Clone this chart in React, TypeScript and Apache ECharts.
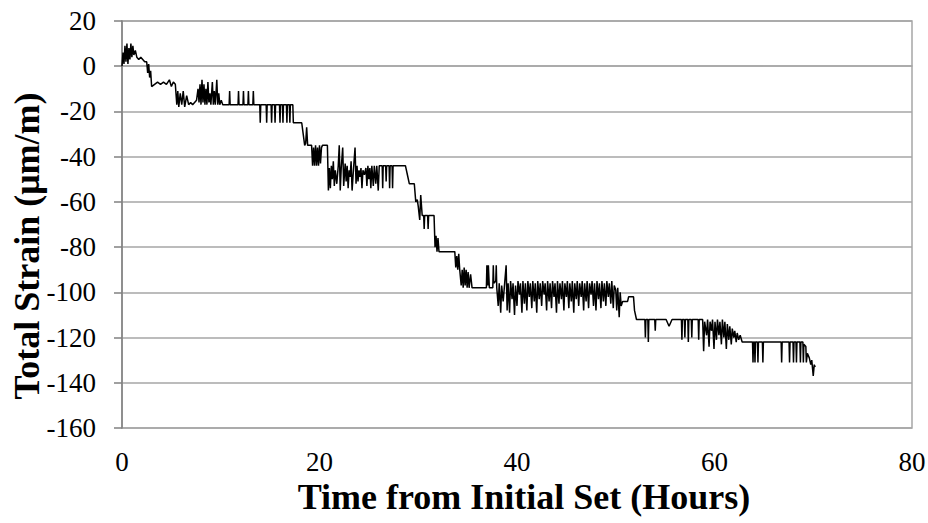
import React, { useEffect, useRef } from "react";
import * as echarts from "echarts";

const xAxisTitle = "Time from Initial Set (Hours)";
const yAxisTitle = "Total Strain (μm/m)";
const xRange = [0, 80];
const yRange = [-160, 20];
const tickStep = 20;

// [hours, strain µm/m]
const readings: [number, number][] = [
  [0.0, 0], [0.1, 6], [0.2, 1], [0.3, 9], [0.4, 2], [0.5, 10], [0.6, 1], [0.7, 8], [0.8, 3], [0.9, 10], [1.0, 4], [1.1, 9], [1.2, 5], [1.35, 7], [1.5, 4], [1.7, 3], [1.9, 4], [2.1, 3], [2.3, 2], [2.5, 2], [2.6, -3], [2.7, 1], [2.8, -5], [2.9, -2], [3.0, -9],
  [3.3, -8], [3.6, -7], [3.9, -8], [4.2, -7], [4.5, -8], [4.8, -6], [5.0, -9], [5.2, -7], [5.4, -8],
  [5.55, -17], [5.65, -11], [5.75, -18], [5.9, -12], [6.05, -17], [6.2, -11], [6.35, -18], [6.55, -13], [6.75, -17], [6.95, -16], [7.15, -17], [7.35, -16], [7.55, -15],
  [7.7, -10], [7.8, -16], [7.9, -8], [8.0, -17], [8.1, -6], [8.2, -16], [8.3, -8], [8.4, -17], [8.5, -10], [8.6, -17], [8.7, -7], [8.8, -16], [8.9, -12], [9.0, -17], [9.15, -7], [9.25, -17], [9.35, -11], [9.45, -17], [9.6, -6], [9.7, -17], [9.8, -12], [9.9, -17], [10.05, -15], [10.2, -17],
  [10.85, -17], [10.9, -11], [10.95, -17], [11.75, -17], [11.8, -11], [11.85, -17], [12.25, -17], [12.3, -11], [12.35, -17], [12.75, -17], [12.8, -11], [12.85, -17], [13.25, -17], [13.3, -11], [13.35, -17],
  [13.95, -17], [14.0, -25], [14.05, -17], [14.6, -17], [14.65, -25], [14.7, -17], [15.1, -17], [15.15, -25], [15.2, -17], [15.45, -17], [15.5, -25], [15.55, -17], [15.95, -17], [16.0, -25], [16.05, -17], [16.25, -17], [16.3, -25], [16.35, -17], [16.65, -17], [16.7, -25], [16.75, -17], [16.95, -17], [17.0, -25], [17.05, -17], [17.3, -17], [17.35, -25],
  [18.2, -25], [18.35, -30], [18.5, -35], [18.6, -34], [18.7, -27], [18.8, -35], [19.2, -35],
  [19.3, -44], [19.4, -36], [19.5, -44], [19.6, -35], [19.7, -44], [19.8, -36], [19.9, -44], [20.0, -35], [20.1, -43], [20.2, -36], [20.3, -35], [20.8, -35],
  [20.9, -55], [21.0, -45], [21.1, -54], [21.2, -44], [21.3, -50], [21.4, -42], [21.5, -53], [21.6, -46], [21.75, -52], [21.9, -44], [22.0, -35], [22.1, -55], [22.2, -45], [22.35, -36], [22.45, -53], [22.6, -43], [22.7, -51], [22.8, -44], [22.9, -54], [23.0, -46], [23.1, -49], [23.2, -42], [23.3, -55], [23.45, -45], [23.6, -36], [23.7, -52], [23.8, -44], [23.9, -51], [24.0, -46], [24.1, -49], [24.2, -45], [24.3, -54], [24.4, -46], [24.55, -48], [24.7, -45], [24.8, -53], [24.9, -44], [25.0, -50], [25.1, -45], [25.2, -54], [25.3, -44],
  [25.45, -53], [25.55, -44], [25.7, -52], [25.8, -44], [25.95, -55], [26.05, -44], [26.35, -44], [26.4, -54], [26.45, -44], [26.7, -44], [26.75, -51], [26.8, -44], [27.05, -44], [27.1, -54], [27.15, -44], [27.35, -44], [27.4, -54], [27.45, -44], [28.7, -44],
  [28.9, -48], [29.1, -52], [29.6, -52], [29.75, -60], [29.9, -59], [30.0, -62], [30.15, -68], [30.25, -57], [30.4, -66], [30.55, -66], [30.6, -72], [30.65, -66], [30.95, -66], [31.0, -72], [31.05, -66], [31.6, -66], [31.7, -80], [31.8, -75], [31.9, -82], [32.0, -76], [32.1, -82], [33.7, -82],
  [33.8, -89], [33.9, -84], [34.0, -90], [34.1, -83], [34.2, -90], [34.35, -97], [34.45, -90], [34.55, -98], [34.65, -89], [34.75, -97], [34.85, -90], [34.95, -98], [35.05, -91], [35.15, -98], [35.3, -92], [35.45, -98],
  [36.9, -98], [36.95, -88], [37.05, -97], [37.1, -88], [37.2, -98], [37.55, -98], [37.6, -88], [37.65, -96], [37.85, -95], [37.9, -88], [37.95, -98],
  [38.1, -106], [38.2, -96], [38.35, -109], [38.45, -97], [38.6, -104], [38.75, -96], [38.9, -88], [39.0, -108], [39.1, -96], [39.25, -109], [39.35, -95], [39.5, -103], [39.6, -96], [39.75, -110], [39.85, -97], [40.0, -106], [40.1, -95], [40.25, -101], [40.35, -96], [40.5, -109], [40.6, -95], [40.75, -105], [40.85, -96], [41.0, -108], [41.1, -95], [41.25, -102], [41.35, -96], [41.5, -107], [41.6, -95], [41.75, -104], [41.85, -96], [42.0, -109], [42.1, -95], [42.25, -103], [42.35, -96], [42.5, -106], [42.6, -95], [42.75, -101], [42.85, -96], [43.0, -108], [43.1, -95], [43.25, -104], [43.35, -96], [43.5, -107], [43.6, -95], [43.75, -102], [43.85, -96], [44.0, -109], [44.1, -95], [44.25, -105], [44.35, -96], [44.5, -103], [44.6, -95], [44.75, -108], [44.85, -96], [45.0, -102], [45.1, -95], [45.25, -107], [45.35, -96], [45.5, -104], [45.6, -95], [45.75, -109], [45.85, -96], [46.0, -103], [46.1, -95], [46.25, -106], [46.35, -96], [46.5, -102], [46.6, -95], [46.75, -108], [46.85, -96], [47.0, -104], [47.1, -95], [47.25, -107], [47.35, -96], [47.5, -101], [47.6, -95], [47.75, -106], [47.85, -96], [48.0, -108], [48.1, -95], [48.25, -103], [48.35, -96], [48.5, -107], [48.6, -95], [48.75, -104], [48.85, -96], [49.0, -106], [49.1, -95], [49.25, -102], [49.35, -96], [49.5, -105], [49.6, -95], [49.75, -107], [49.85, -97],
  [50.0, -99], [50.1, -108], [50.2, -98], [50.35, -111], [50.45, -100], [50.55, -106], [50.7, -104], [51.2, -104], [51.3, -102], [51.8, -102], [51.9, -108], [52.1, -112],
  [52.95, -112], [53.0, -120], [53.05, -112], [53.25, -112], [53.3, -122], [53.35, -112], [53.95, -112], [54.0, -117], [54.05, -112], [55.1, -112], [55.4, -115], [55.7, -112],
  [56.65, -112], [56.7, -121], [56.75, -112], [56.95, -112], [57.0, -120], [57.05, -112], [57.3, -112], [57.35, -122], [57.4, -112], [57.65, -112], [57.7, -120], [57.75, -112], [58.35, -112], [58.4, -121], [58.45, -112], [58.8, -112], [58.9, -126], [59.0, -113],
  [59.2, -119], [59.3, -112], [59.45, -124], [59.55, -113], [59.7, -117], [59.8, -112], [59.95, -125], [60.05, -113], [60.2, -121], [60.3, -112], [60.45, -119], [60.55, -113], [60.7, -123], [60.8, -112], [60.95, -120], [61.05, -113], [61.2, -125], [61.3, -114], [61.45, -121], [61.55, -115], [61.7, -123], [61.8, -116], [61.95, -120], [62.05, -117], [62.2, -122], [62.3, -118], [62.45, -121], [62.6, -119], [62.8, -122], [62.9, -122],
  [63.85, -122], [63.9, -131], [63.95, -122], [64.05, -122], [64.1, -131], [64.15, -122], [64.35, -122], [64.4, -131], [64.45, -122], [64.85, -122], [64.9, -131], [64.95, -122], [66.75, -122], [66.8, -131], [66.85, -122], [67.55, -122], [67.6, -131], [67.65, -122], [67.95, -122], [68.0, -131], [68.05, -122], [68.25, -122], [68.3, -131], [68.35, -122], [68.65, -122], [68.7, -131], [68.75, -122], [68.95, -122], [69.0, -131], [69.05, -123], [69.25, -124], [69.3, -131], [69.4, -127], [69.6, -129], [69.75, -132], [69.85, -130], [70.0, -137], [70.1, -132], [70.2, -133],
];

const FONT = "'Liberation Serif', 'Times New Roman', serif";

export default function App() {
  const ref = useRef<HTMLDivElement>(null);
  useEffect(() => {
    if (!ref.current) return;
    const chart = echarts.init(ref.current, undefined, { renderer: "svg" });
    chart.setOption({
      animation: false,
      backgroundColor: "#ffffff",
      grid: {
        left: 122,
        right: 16,
        top: 21,
        bottom: 95,
        outerBoundsMode: "none",
        containLabel: false,
        show: true,
        borderColor: "#a6a6a6",
        borderWidth: 1.5,
        backgroundColor: "transparent",
      },
      graphic: [
        {
          type: "text",
          x: 27,
          y: 246,
          rotation: Math.PI / 2,
          style: {
            text: yAxisTitle,
            font: `bold 36px ${FONT}`,
            fill: "#000",
            align: "center",
            verticalAlign: "middle",
          },
        },
        {
          type: "text",
          x: 524,
          y: 497,
          style: {
            text: xAxisTitle,
            font: `bold 36px ${FONT}`,
            fill: "#000",
            align: "center",
            verticalAlign: "middle",
          },
        },
      ],
      xAxis: {
        type: "value",
        min: xRange[0],
        max: xRange[1],
        interval: tickStep,
        axisLine: { show: true, lineStyle: { color: "#a6a6a6", width: 1.5 } },
        axisTick: { show: false },
        axisLabel: { fontFamily: FONT, fontSize: 27, color: "#000", margin: 20 },
        splitLine: { show: false },
      },
      yAxis: {
        type: "value",
        min: yRange[0],
        max: yRange[1],
        interval: tickStep,
        axisLine: { show: true, onZero: false, lineStyle: { color: "#808080", width: 1.5 } },
        axisTick: { show: true, inside: false, length: 8, lineStyle: { color: "#808080", width: 1.5 } },
        axisLabel: { fontFamily: FONT, fontSize: 27, color: "#000", margin: 26 },
        splitLine: { show: true, lineStyle: { color: "#a6a6a6", width: 1.5 } },
      },
      series: [
        {
          type: "line",
          data: readings,
          showSymbol: false,
          symbol: "none",
          lineStyle: { color: "#000000", width: 1.5 },
          z: 5,
        },
      ],
    });
    return () => chart.dispose();
  }, []);
  return (
    <div
      ref={ref}
      style={{ position: "fixed", left: 0, top: 0, width: 928, height: 523, background: "#fff" }}
    />
  );
}
